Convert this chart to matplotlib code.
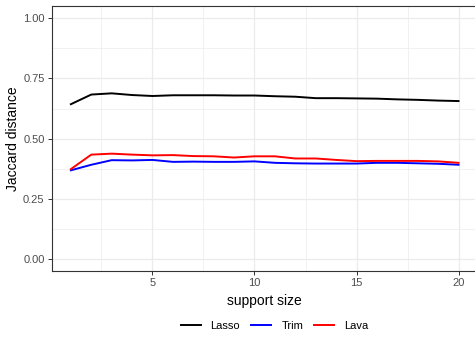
import matplotlib
matplotlib.use("Agg")
import matplotlib.pyplot as plt
import numpy as np

plt.rcParams['font.family'] = ['Liberation Sans', 'DejaVu Sans']

support_size = list(range(1, 21))
lasso = [0.643, 0.683, 0.688, 0.681, 0.677, 0.680, 0.680, 0.680, 0.679, 0.679,
         0.676, 0.674, 0.668, 0.668, 0.667, 0.666, 0.663, 0.661, 0.658, 0.656]
trim = [0.369, 0.392, 0.411, 0.410, 0.412, 0.404, 0.405, 0.404, 0.404, 0.406,
        0.400, 0.398, 0.397, 0.397, 0.397, 0.400, 0.400, 0.398, 0.396, 0.392]
lava = [0.374, 0.434, 0.438, 0.434, 0.431, 0.432, 0.428, 0.427, 0.422, 0.427,
        0.427, 0.418, 0.418, 0.412, 0.407, 0.408, 0.408, 0.408, 0.406, 0.400]

series_names = ["Lasso", "Trim", "Lava"]
series_colors = ["black", "#0000FF", "#FF0000"]

x_ticks = [5, 10, 15, 20]
y_ticks = [0.00, 0.25, 0.50, 0.75, 1.00]
y_tick_labels = ["0.00", "0.25", "0.50", "0.75", "1.00"]

fig = plt.figure(figsize=(4.75, 3.45), dpi=100)
# the panel runs slightly past the right edge of the canvas
ax = fig.add_axes([51.5 / 475, 73.6 / 345, 426.4 / 475, 265.4 / 345])

for vals, name, col in zip([lasso, trim, lava], series_names, series_colors):
    ax.plot(support_size, vals, color=col, lw=1.4, label=name, solid_joinstyle='round')

ax.set_xlim(0.05, 20.95)
ax.set_ylim(-0.05, 1.05)
ax.set_xticks(x_ticks)
ax.set_xticks([2.5, 7.5, 12.5, 17.5], minor=True)
ax.set_yticks(y_ticks)
ax.set_yticklabels(y_tick_labels)
ax.set_yticks([0.125, 0.375, 0.625, 0.875], minor=True)

ax.grid(True, which='major', color='#EBEBEB', lw=0.9)
ax.grid(True, which='minor', color='#EBEBEB', lw=0.5)
ax.set_axisbelow(True)

for s in ax.spines.values():
    s.set_color('#333333')
    s.set_linewidth(0.8)

ax.tick_params(which='major', direction='out', length=3, width=0.7, color='#333333',
               labelcolor='#4D4D4D', labelsize=8, pad=2)
ax.tick_params(which='minor', length=0)

ax.set_xlabel("support size", fontsize=10, color='black', labelpad=4)
ax.set_ylabel("Jaccard distance", fontsize=10, color='black', labelpad=2)

handles, labels = ax.get_legend_handles_labels()
fig.legend(handles, labels, loc='center', bbox_to_anchor=(0.578, 0.055), ncol=3,
           frameon=False, fontsize=8, handlelength=1.8, handletextpad=0.9,
           columnspacing=1.0)

fig.savefig("out.png", dpi=100)
